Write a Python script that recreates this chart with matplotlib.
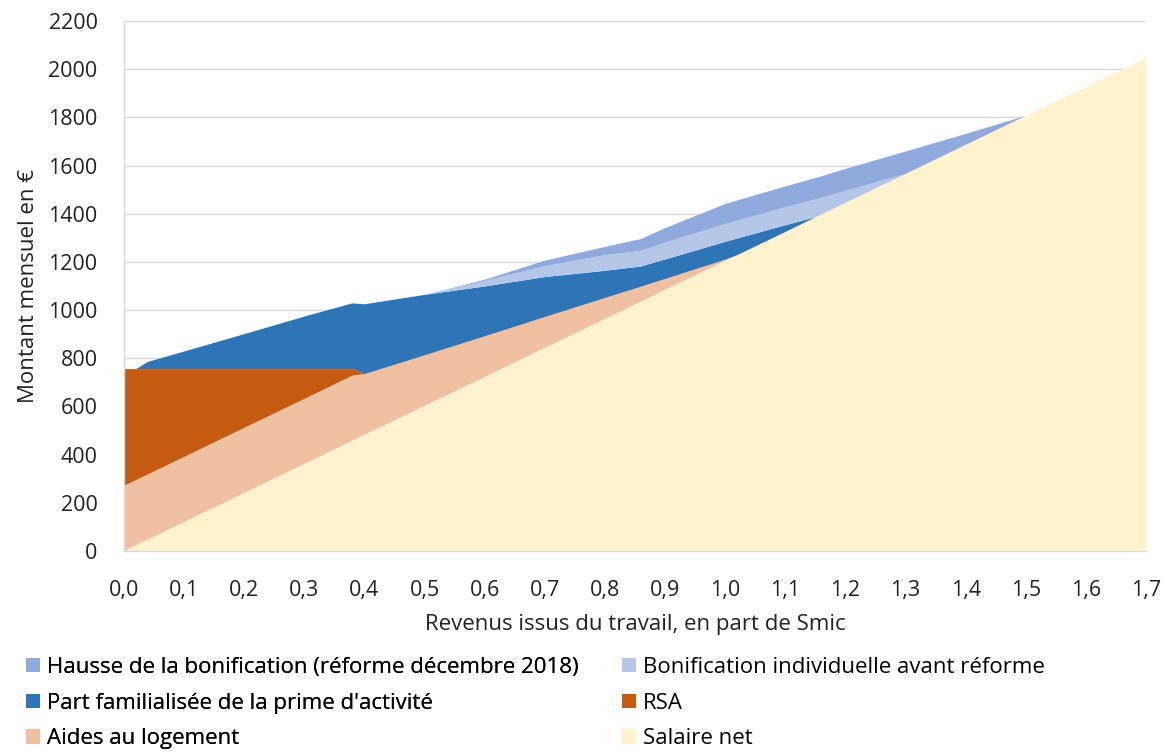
import matplotlib
matplotlib.use("Agg")
import matplotlib.pyplot as plt
from matplotlib.patches import Patch
from matplotlib.ticker import FuncFormatter

plt.rcParams['font.family'] = ['Open Sans', 'DejaVu Sans']

# Revenus issus du travail, en part de Smic
x = [0, 0.02, 0.04, 0.1, 0.2, 0.3, 0.38, 0.40, 0.5, 0.6, 0.7, 0.8, 0.86, 0.9,
     1.0, 1.02, 1.1, 1.15, 1.2, 1.3, 1.4, 1.5, 1.6, 1.7]
salaire_net = [0, 24, 48, 120, 241, 361, 458, 482, 602, 722, 843, 963, 1035, 1084,
               1204, 1228, 1324, 1385, 1445, 1565, 1686, 1806, 1926, 2047]
aides_logement = [270, 270, 270, 270, 270, 270, 270, 252, 210, 169, 128, 87, 62, 45,
                  5, 0, 0, 0, 0, 0, 0, 0, 0, 0]
rsa = [485, 461, 437, 365, 244, 124, 27, 0, 0, 0, 0, 0, 0, 0,
       0, 0, 0, 0, 0, 0, 0, 0, 0, 0]
part_familialisee = [0, 0, 30, 73, 145, 218, 273, 290, 251, 207, 166, 113, 84, 81,
                     74, 69, 28, 0, 0, 0, 0, 0, 0, 0]
bonif_avant = [0, 0, 0, 0, 0, 0, 0, 0, 0, 23, 45, 65, 65, 70,
               74, 74, 75, 74, 50, 0, 0, 0, 0, 0]
hausse_bonif = [0, 0, 0, 0, 0, 0, 0, 0, 0, 5, 23, 34, 49, 60,
                83, 84, 86, 89, 91, 93, 45, 0, 0, 0]

labels = ["Salaire net", "Aides au logement", "RSA",
          "Part familialisée de la prime d'activité",
          "Bonification individuelle avant réforme",
          "Hausse de la bonification (réforme décembre 2018)"]
colors = ["#FFF2CC", "#F0C1A0", "#C55A11", "#2E75B6", "#B4C7E7", "#8FAADC"]

xticks = [i / 10 for i in range(18)]
yticks = list(range(0, 2201, 200))

W, H = 1164, 756
fig = plt.figure(figsize=(W / 100, H / 100), dpi=100)
ax = fig.add_axes([124 / W, 1 - 551 / H, (1146 - 124) / W, (551 - 21) / H])

ax.stackplot(x, salaire_net, aides_logement, rsa, part_familialisee, bonif_avant,
             hausse_bonif, colors=colors, linewidth=0, zorder=2)

ax.set_xlim(0, 1.7)
ax.set_ylim(0, 2200)
ax.set_xticks(xticks)
ax.set_yticks(yticks)
ax.xaxis.set_major_formatter(FuncFormatter(lambda v, p: f"{v:.1f}".replace(".", ",")))
ax.tick_params(axis='both', length=0, labelsize=15.5, colors="#222222")
ax.tick_params(axis='y', pad=19)
ax.tick_params(axis='x', pad=21)
ax.grid(axis='y', color="#D9D9D9", linewidth=1, zorder=0)
ax.set_axisbelow(True)
for s in ["top", "right"]:
    ax.spines[s].set_visible(False)
for s in ["left", "bottom"]:
    ax.spines[s].set_color("#D9D9D9")
    ax.spines[s].set_linewidth(1)

ax.set_ylabel("Montant mensuel en €", fontsize=16, color="#222222", labelpad=7)
ax.set_xlabel("Revenus issus du travail, en part de Smic", fontsize=16,
              color="#222222", labelpad=9)

legend_kw = dict(loc='upper left', frameon=False, fontsize=16,
                 handlelength=0.63, handleheight=0.63, handletextpad=0.32,
                 labelspacing=0.66, borderaxespad=0, borderpad=0)
col1 = [5, 3, 1]
col2 = [4, 2, 0]
leg1 = fig.legend([Patch(facecolor=colors[i], edgecolor='none') for i in col1],
                  [labels[i] for i in col1],
                  bbox_to_anchor=(26 / W, 1 - 657 / H), **legend_kw)
fig.add_artist(leg1)
fig.legend([Patch(facecolor=colors[i], edgecolor='none') for i in col2],
           [labels[i] for i in col2],
           bbox_to_anchor=(622 / W, 1 - 657 / H), **legend_kw)

fig.savefig("out.png", dpi=100)
